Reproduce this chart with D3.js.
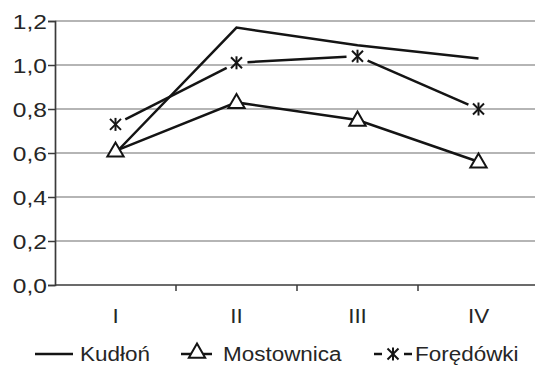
<!DOCTYPE html>
<html>
<head>
<meta charset="utf-8">
<script src="https://cdn.jsdelivr.net/npm/d3@7"></script>
<style>
  html, body { margin: 0; padding: 0; background: #fff; }
  svg { display: block; font-family: "Liberation Sans", Arial, sans-serif; }
</style>
</head>
<body>
<svg id="chart" width="535" height="368"></svg>
<script>
const categories = ["I", "II", "III", "IV"];
const kudlon = [0.60, 1.17, 1.09, 1.03];
const mostownica = [0.61, 0.83, 0.75, 0.56];
const foredowki = [0.73, 1.01, 1.04, 0.80];
const yTicks = [0, 0.2, 0.4, 0.6, 0.8, 1.0, 1.2];
const seriesNames = ["Kudłoń", "Mostownica", "Foręd\u00f3wki"];

const svg = d3.select("#chart");
const plotLeft = 55, plotRight = 539, plotTop = 21, plotBottom = 285;
const fontSize = 21, stretch = 1.07, textColor = "#262626", ink = "#141414";

const x = d3.scaleBand().domain(categories).range([plotLeft, plotRight]).paddingInner(0).paddingOuter(0);
const y = d3.scaleLinear().domain([0, 1.2]).range([plotBottom, plotTop]);
const cx = c => x(c) + x.bandwidth() / 2;
const fmt = v => d3.format(".1f")(v).replace(".", ",");

// text helper: slightly widened sans-serif
function label(g, tx, ty, str, anchor, sx) {
  return g.append("text")
    .attr("transform", `translate(${tx},${ty}) scale(${sx || stretch},1)`)
    .attr("text-anchor", anchor || "start")
    .attr("font-size", fontSize).attr("fill", textColor)
    .text(str);
}

// horizontal gridlines
svg.append("g").selectAll("line").data(yTicks.filter(v => v > 0)).join("line")
  .attr("x1", plotLeft).attr("x2", 535)
  .attr("y1", d => y(d)).attr("y2", d => y(d))
  .attr("stroke", "#9c9c9c").attr("stroke-width", 1.6);

// y axis
const yAxis = svg.append("g").attr("transform", `translate(${plotLeft},0)`)
  .call(d3.axisLeft(y).tickValues(yTicks).tickFormat("").tickSize(7));
yAxis.select(".domain").attr("stroke", "#3a3a3a").attr("stroke-width", 1.7);
yAxis.selectAll(".tick line").attr("stroke", "#3a3a3a").attr("stroke-width", 1.5);
const yLab = svg.append("g");
yTicks.forEach(v => label(yLab, 47, y(v) + 7.5, fmt(v), "end", 1.17));

// x axis with ticks at category boundaries
const xAxisG = svg.append("g");
xAxisG.append("line").attr("x1", plotLeft).attr("x2", 535)
  .attr("y1", plotBottom).attr("y2", plotBottom).attr("stroke", "#3a3a3a").attr("stroke-width", 1.7);
xAxisG.selectAll("line.tk").data(categories.slice(1)).join("line").attr("class", "tk")
  .attr("x1", d => x(d)).attr("x2", d => x(d))
  .attr("y1", plotBottom).attr("y2", plotBottom + 6).attr("stroke", "#3a3a3a").attr("stroke-width", 1.5);
categories.forEach(c => label(xAxisG, cx(c), 323, c, "middle"));

const lineGen = d3.line().x((d, i) => cx(categories[i])).y(d => y(d));

// Kudłoń: plain line
svg.append("path").datum(kudlon).attr("d", lineGen)
  .attr("fill", "none").attr("stroke", ink).attr("stroke-width", 2.5);

// Mostownica: line with open triangles
svg.append("path").datum(mostownica).attr("d", lineGen)
  .attr("fill", "none").attr("stroke", ink).attr("stroke-width", 2.5);

const tri = d3.symbol().type(d3.symbolTriangle).size(115);
function drawTriangle(g, px, py) {
  g.append("path").attr("d", tri()).attr("transform", `translate(${px},${py + 1})`)
    .attr("fill", "#fff").attr("stroke", ink).attr("stroke-width", 2);
}
mostownica.forEach((v, i) => drawTriangle(svg, cx(categories[i]), y(v)));

// Foręd\u00f3wki: segments broken around asterisk markers
const gap = 11;
for (let i = 0; i < foredowki.length - 1; i++) {
  const x1 = cx(categories[i]), y1 = y(foredowki[i]);
  const x2 = cx(categories[i + 1]), y2 = y(foredowki[i + 1]);
  const len = Math.hypot(x2 - x1, y2 - y1);
  const ux = (x2 - x1) / len, uy = (y2 - y1) / len;
  svg.append("line")
    .attr("x1", x1 + ux * gap).attr("y1", y1 + uy * gap)
    .attr("x2", x2 - ux * gap).attr("y2", y2 - uy * gap)
    .attr("stroke", ink).attr("stroke-width", 2.5);
}
function drawStar(g, px, py) {
  const sx = 5.5, sy = 6.5;
  const st = g.append("g").attr("transform", `translate(${px},${py})`)
    .attr("stroke", ink).attr("stroke-width", 2);
  st.append("line").attr("x1", -sx).attr("y1", -sy + 1).attr("x2", sx).attr("y2", sy - 1);
  st.append("line").attr("x1", -sx).attr("y1", sy - 1).attr("x2", sx).attr("y2", -sy + 1);
  st.append("line").attr("x1", 0).attr("y1", -sy).attr("x2", 0).attr("y2", sy);
}
foredowki.forEach((v, i) => drawStar(svg, cx(categories[i]), y(v)));

// legend
const ly = 361, lm = 354;
const lg = svg.append("g");
lg.append("line").attr("x1", 35).attr("x2", 73).attr("y1", lm).attr("y2", lm)
  .attr("stroke", ink).attr("stroke-width", 2.5);
label(lg, 80, ly, seriesNames[0]);

lg.append("line").attr("x1", 181).attr("x2", 212).attr("y1", lm).attr("y2", lm)
  .attr("stroke", ink).attr("stroke-width", 2.5);
drawTriangle(lg, 197, lm - 2);
label(lg, 223, ly, seriesNames[1]);

lg.append("line").attr("x1", 374).attr("x2", 382).attr("y1", lm).attr("y2", lm)
  .attr("stroke", ink).attr("stroke-width", 2.5);
lg.append("line").attr("x1", 404).attr("x2", 412).attr("y1", lm).attr("y2", lm)
  .attr("stroke", ink).attr("stroke-width", 2.5);
drawStar(lg, 393, lm);
label(lg, 415, ly, seriesNames[2]);
</script>
</body>
</html>
